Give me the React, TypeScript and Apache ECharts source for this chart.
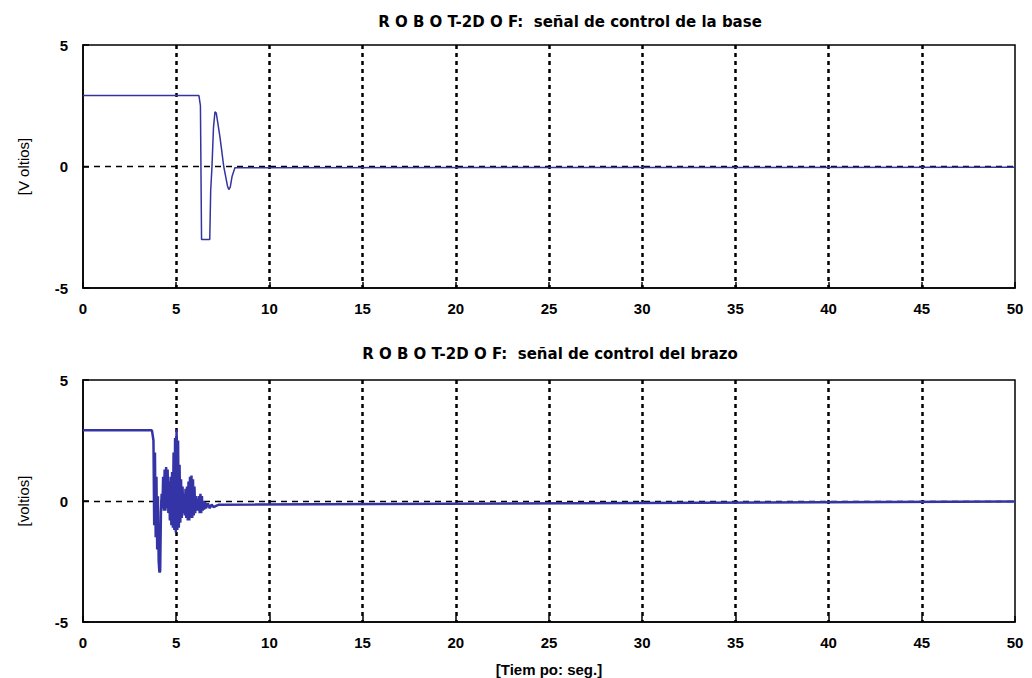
import React, { useEffect, useRef } from "react";
import * as echarts from "echarts";

// Top plot: control signal of the base
const timeTop = [0, 6.22, 6.3, 6.36, 6.8, 6.85, 6.92, 7.0, 7.08, 7.15, 7.25, 7.35, 7.45, 7.55, 7.65, 7.75, 7.82, 7.9, 8.0, 8.15, 8.4, 50];
const voltTop = [2.92, 2.92, 2.5, -3.0, -3.0, -1.0, 0.0, 1.6, 2.25, 2.2, 1.7, 1.2, 0.6, 0.0, -0.4, -0.8, -0.95, -0.85, -0.4, -0.05, -0.05, -0.03];

// Bottom plot: control signal of the arm
const timeBottom = [
  0, 3.7, 3.78, 3.82, 3.86, 3.9, 3.94, 3.98, 4.02, 4.06, 4.1, 4.14, 4.18, 4.22, 4.26, 4.3,
  4.34, 4.38, 4.42, 4.46, 4.5, 4.54, 4.58, 4.62, 4.66, 4.7, 4.74, 4.78, 4.82, 4.86, 4.9,
  4.94, 4.98, 5.02, 5.06, 5.1, 5.14, 5.18, 5.22, 5.26, 5.3, 5.34, 5.38, 5.42, 5.46, 5.5,
  5.54, 5.58, 5.62, 5.66, 5.7, 5.74, 5.78, 5.82, 5.86, 5.9, 5.94, 5.98, 6.02, 6.06, 6.1,
  6.14, 6.18, 6.22, 6.26, 6.3, 6.34, 6.38, 6.42, 6.46, 6.5, 6.55, 6.6, 6.7, 6.8, 6.9,
  7.0, 7.2, 7.3, 50,
];
const voltBottom = [
  2.92, 2.92, 2.5, -1.0, 2.0, -1.5, 1.0, -2.0, 0.2, -2.5, -2.95, -2.9, -0.5, 0.3, -0.3, 1.0,
  -0.4, 1.3, -0.4, 1.4, -0.3, 1.3, -0.5, 0.8, -0.8, 1.0, -1.0, 1.2, -1.1, 2.0, -1.2,
  2.6, -1.3, 2.95, -1.2, 2.5, -1.1, 1.5, -0.9, 0.9, -0.7, 0.6, -0.5, 0.3, -0.6, 0.5,
  -0.7, 0.6, -0.8, 0.8, -0.8, 1.0, -0.7, 1.05, -0.7, 0.9, -0.6, 0.6, -0.5, 0.2, -0.4,
  0.1, -0.4, 0.2, -0.5, 0.3, -0.5, 0.2, -0.4, 0.0, -0.35, -0.05, -0.3, -0.1, -0.3, -0.15,
  -0.25, -0.18, -0.15, -0.02,
];

const titleTop = "R O B O T-2D O F:  señal de control de la base";
const titleBottom = "R O B O T-2D O F:  señal de control del brazo";
const yNameTop = "[V oltios]";
const yNameBottom = "[voltios]";
const xName = "[Tiem po: seg.]";

const FONT = "Liberation Sans";
const TITLE_FONT = "DejaVu Sans";

function pairs(t: number[], v: number[]) {
  return t.map((x, i) => [x, v[i]]);
}

export default function App() {
  const ref = useRef<HTMLDivElement>(null);
  useEffect(() => {
    if (!ref.current) return;
    const chart = echarts.init(ref.current, undefined, { renderer: "svg" });
    const grids = [
      { left: 83, top: 45, width: 932, height: 243, show: true, borderColor: "#000", borderWidth: 1.5, backgroundColor: "#fff" },
      { left: 83, top: 380, width: 932, height: 242, show: true, borderColor: "#000", borderWidth: 1.5, backgroundColor: "#fff" },
    ];
    const line = { color: "#000", width: 1.5 };
    const tick = { show: true, inside: true, length: 6, lineStyle: { color: "#000", width: 1.5 } };
    const mkX = (gi: number, withName: boolean) => ({
      type: "value",
      gridIndex: gi,
      min: 0,
      max: 50,
      interval: 5,
      name: withName ? xName : "",
      nameLocation: "middle",
      nameGap: 40,
      nameTextStyle: { fontFamily: FONT, fontWeight: "bold", fontSize: 15, color: "#000" },
      axisLine: { show: true, onZero: false, lineStyle: line },
      axisTick: tick,
      axisLabel: { fontFamily: FONT, fontWeight: "bold", fontSize: 15, color: "#000", margin: 13 },
      splitLine: {
        show: true,
        showMinLine: false,
        showMaxLine: false,
        lineStyle: { color: "#000", width: 2.5, type: [4, 4] },
      },
    });
    const mkY = (gi: number, name: string) => ({
      type: "value",
      gridIndex: gi,
      min: -5,
      max: 5,
      interval: 5,
      name,
      nameLocation: "middle",
      nameGap: 52,
      nameRotate: 90,
      nameTextStyle: { fontFamily: FONT, fontSize: 15, color: "#000" },
      axisLine: { show: true, onZero: false, lineStyle: line },
      axisTick: tick,
      axisLabel: { fontFamily: FONT, fontWeight: "bold", fontSize: 15, color: "#000", margin: 15 },
      splitLine: {
        show: true,
        showMinLine: false,
        showMaxLine: false,
        lineStyle: { color: "#000", width: 1.4, type: [6, 5] },
      },
    });
    chart.setOption({
      animation: false,
      backgroundColor: "#fff",
      title: [
        {
          text: titleTop,
          left: 565,
          top: 9,
          textAlign: "center",
          textStyle: { fontFamily: TITLE_FONT, fontWeight: "bold", fontSize: 15, color: "#000" },
        },
        {
          text: titleBottom,
          left: 545,
          top: 341,
          textAlign: "center",
          textStyle: { fontFamily: TITLE_FONT, fontWeight: "bold", fontSize: 15, color: "#000" },
        },
      ],
      grid: grids,
      xAxis: [mkX(0, false), mkX(1, true)],
      yAxis: [mkY(0, yNameTop), mkY(1, yNameBottom)],
      series: [
        {
          type: "line",
          xAxisIndex: 0,
          yAxisIndex: 0,
          data: pairs(timeTop, voltTop),
          showSymbol: false,
          lineStyle: { color: "#34349e", width: 1.5 },
          z: 5,
        },
        {
          type: "line",
          xAxisIndex: 1,
          yAxisIndex: 1,
          data: pairs(timeBottom, voltBottom),
          showSymbol: false,
          lineStyle: { color: "#3434a6", width: 2.5 },
          z: 5,
        },
      ],
    });
    return () => chart.dispose();
  }, []);
  return (
    <div
      ref={ref}
      style={{ position: "absolute", left: 0, top: 0, width: 1032, height: 678 }}
    />
  );
}
